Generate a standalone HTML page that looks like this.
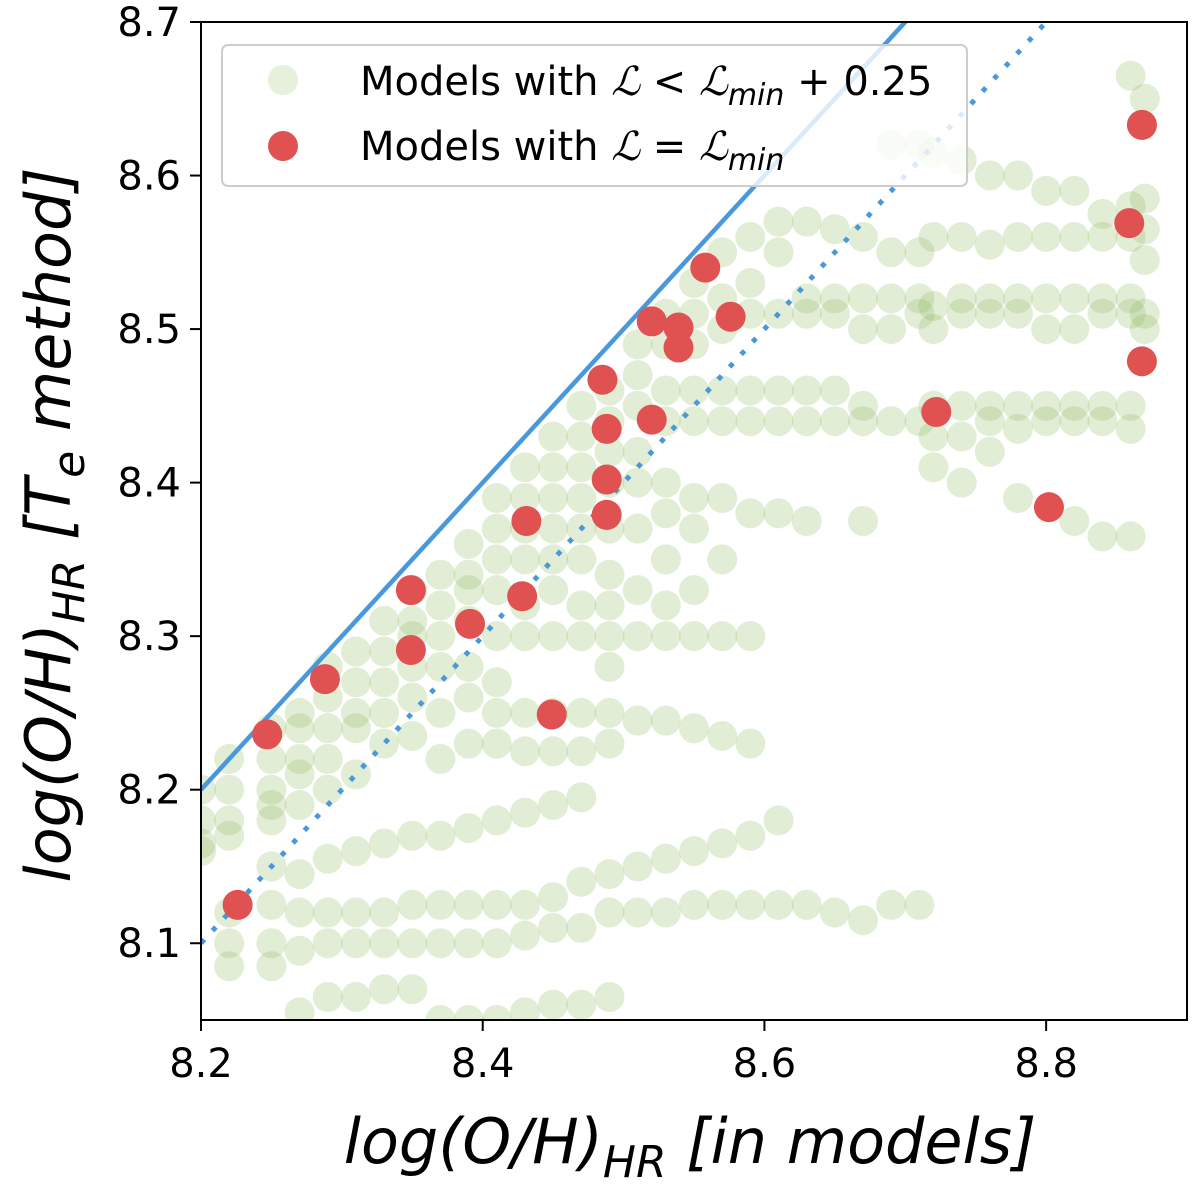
<!DOCTYPE html>
<html><head><meta charset="utf-8"><style>
body{margin:0;background:#fff;}
svg{display:block;font-family:"DejaVu Sans","Liberation Sans",sans-serif;}
</style></head><body>
<svg id="chart" width="1200" height="1184" viewBox="0 0 1200 1184" xmlns="http://www.w3.org/2000/svg">
<defs><clipPath id="clip"><rect x="201" y="22" width="986" height="998"/></clipPath></defs>
<g id="plot" clip-path="url(#clip)"></g>
<rect x="201" y="22" width="986" height="998" fill="none" stroke="#000" stroke-width="2"/>
<g id="axes"></g>
<g>
<rect x="222" y="45" width="745" height="141" rx="6" fill="#fff" fill-opacity="0.8" stroke="#ccc" stroke-width="2"/>
<circle cx="283" cy="80" r="15" fill="#8cb95a" fill-opacity="0.22"/>
<circle cx="283" cy="146" r="15" fill="#e05252"/>
<text x="360" y="95" font-size="40">Models with <tspan font-family="Liberation Serif,serif" font-style="italic">ℒ</tspan> &lt; <tspan font-family="Liberation Serif,serif" font-style="italic">ℒ</tspan><tspan font-style="italic" font-size="30" dy="10">min</tspan><tspan dy="-10"> + 0.25</tspan></text>
<text x="360" y="160" font-size="40">Models with <tspan font-family="Liberation Serif,serif" font-style="italic">ℒ</tspan> = <tspan font-family="Liberation Serif,serif" font-style="italic">ℒ</tspan><tspan font-style="italic" font-size="30" dy="10">min</tspan></text>
</g>
<text x="690" y="1163" text-anchor="middle" font-size="62" font-style="italic">log(O/H)<tspan font-size="44" dy="14">HR</tspan><tspan dy="-14"> [in models]</tspan></text>
<text transform="translate(70,525) rotate(-90)" text-anchor="middle" font-size="62" font-style="italic">log(O/H)<tspan font-size="44" dy="14">HR</tspan><tspan dy="-14"> [T</tspan><tspan font-size="44" dy="14">e</tspan><tspan dy="-14"> method]</tspan></text>
</svg>
<script>
const xTicks=[8.2,8.4,8.6,8.8];
const yTicks=[8.1,8.2,8.3,8.4,8.5,8.6,8.7];
const greenX=[8.20,8.22,8.25,8.27,8.29,8.31,8.33,8.35,8.37,8.39,8.41,8.43,8.45,8.47,8.49,8.51,8.53,8.55,8.57,8.59,8.61,8.63,8.65,8.67,8.69,8.71,8.72,8.74,8.76,8.78,8.80,8.82,8.84,8.86,8.87];
const greenY=[
[8.20,8.18,8.165,8.16],
[8.22,8.20,8.18,8.17,8.12,8.10,8.085],
[8.24,8.22,8.20,8.19,8.18,8.15,8.125,8.10,8.085],
[8.25,8.24,8.22,8.21,8.19,8.145,8.12,8.095,8.055],
[8.28,8.26,8.24,8.22,8.20,8.155,8.12,8.10,8.065],
[8.29,8.27,8.25,8.24,8.21,8.16,8.12,8.10,8.065],
[8.31,8.29,8.27,8.25,8.23,8.165,8.12,8.10,8.07],
[8.33,8.31,8.30,8.28,8.26,8.235,8.17,8.125,8.10,8.07],
[8.34,8.32,8.30,8.28,8.25,8.22,8.17,8.125,8.10,8.05],
[8.36,8.34,8.33,8.31,8.28,8.26,8.23,8.175,8.125,8.10,8.05],
[8.39,8.37,8.35,8.33,8.30,8.27,8.25,8.23,8.18,8.125,8.10,8.05],
[8.41,8.39,8.37,8.35,8.32,8.30,8.25,8.225,8.185,8.125,8.105,8.055],
[8.43,8.41,8.39,8.37,8.35,8.33,8.30,8.25,8.225,8.19,8.13,8.11,8.06],
[8.45,8.43,8.41,8.39,8.37,8.35,8.32,8.30,8.25,8.225,8.195,8.14,8.11,8.06],
[8.46,8.44,8.42,8.40,8.37,8.34,8.32,8.30,8.28,8.25,8.23,8.145,8.12,8.065],
[8.49,8.47,8.45,8.42,8.40,8.37,8.33,8.30,8.245,8.15,8.12],
[8.51,8.49,8.46,8.44,8.40,8.38,8.35,8.32,8.30,8.245,8.155,8.12],
[8.53,8.51,8.49,8.46,8.44,8.39,8.37,8.33,8.30,8.24,8.16,8.125],
[8.55,8.52,8.50,8.46,8.44,8.39,8.35,8.30,8.235,8.165,8.125],
[8.56,8.53,8.51,8.46,8.44,8.38,8.30,8.23,8.17,8.125],
[8.57,8.55,8.51,8.46,8.44,8.38,8.18,8.125],
[8.57,8.52,8.51,8.46,8.44,8.375,8.125],
[8.565,8.52,8.51,8.46,8.44,8.12],
[8.56,8.52,8.50,8.45,8.44,8.375,8.115],
[8.62,8.55,8.52,8.50,8.44,8.125],
[8.62,8.55,8.52,8.51,8.44,8.125],
[8.615,8.56,8.515,8.50,8.45,8.43,8.41],
[8.61,8.56,8.52,8.51,8.45,8.43,8.40],
[8.60,8.555,8.52,8.51,8.45,8.44,8.42],
[8.60,8.56,8.52,8.51,8.45,8.435,8.39],
[8.59,8.56,8.52,8.50,8.45,8.44],
[8.59,8.56,8.52,8.50,8.45,8.44,8.375],
[8.575,8.56,8.52,8.51,8.45,8.44,8.365],
[8.665,8.58,8.56,8.52,8.51,8.45,8.435,8.365],
[8.65,8.585,8.565,8.545,8.51,8.50]
];
const redX=[8.226,8.247,8.288,8.349,8.349,8.391,8.449,8.428,8.431,8.485,8.488,8.488,8.488,8.520,8.520,8.539,8.539,8.558,8.576,8.722,8.802,8.859,8.868,8.868];
const redY=[8.125,8.236,8.272,8.330,8.291,8.308,8.249,8.326,8.375,8.467,8.435,8.402,8.379,8.505,8.441,8.501,8.488,8.540,8.508,8.446,8.384,8.569,8.633,8.479];

const X0=201,X1=1187,Y0=1020,Y1=22,xmin=8.2,xmax=8.9,ymin=8.05,ymax=8.7;
function sx(v){return X0+(v-xmin)/(xmax-xmin)*(X1-X0);}
function sy(v){return Y0-(v-ymin)/(ymax-ymin)*(Y0-Y1);}
const NS="http://www.w3.org/2000/svg";
const plot=document.getElementById('plot'),axes=document.getElementById('axes');
function mk(tag,attrs,parent){const e=document.createElementNS(NS,tag);for(const k in attrs)e.setAttribute(k,attrs[k]);parent.appendChild(e);return e;}
greenX.forEach((gx,i)=>{greenY[i].forEach(gy=>{
  const c=mk('circle',{cx:sx(gx),cy:sy(gy),r:15,fill:'#8cb95a','fill-opacity':0.25},plot);
  
  
});});
const l1=mk('line',{x1:sx(8.2),y1:sy(8.2),x2:sx(8.9),y2:sy(8.9),stroke:'#4a98dc','stroke-width':4.5},plot);


const l2=mk('line',{x1:sx(8.2),y1:sy(8.1),x2:sx(8.9),y2:sy(8.8),stroke:'#4a98dc','stroke-width':5,'stroke-dasharray':'5 12'},plot);


redX.forEach((rx,i)=>{
  const c=mk('circle',{cx:sx(rx),cy:sy(redY[i]),r:15,fill:'#e05252'},plot);
  
  
});
xTicks.forEach(t=>{
  const tl=mk('line',{x1:sx(t),x2:sx(t),y1:Y0,y2:Y0+11,stroke:'#000','stroke-width':2},axes);
  
  
  const tx=mk('text',{x:sx(t),y:Y0+57,'text-anchor':'middle','font-size':40},axes);
  tx.textContent=t.toFixed(1);
  
  
});
yTicks.forEach(t=>{
  const tl=mk('line',{x1:X0-11,x2:X0,y1:sy(t),y2:sy(t),stroke:'#000','stroke-width':2},axes);
  
  
  const tx=mk('text',{x:X0-20,y:sy(t)+14,'text-anchor':'end','font-size':40},axes);
  tx.textContent=t.toFixed(1);
  
  
});
</script>
</body></html>
